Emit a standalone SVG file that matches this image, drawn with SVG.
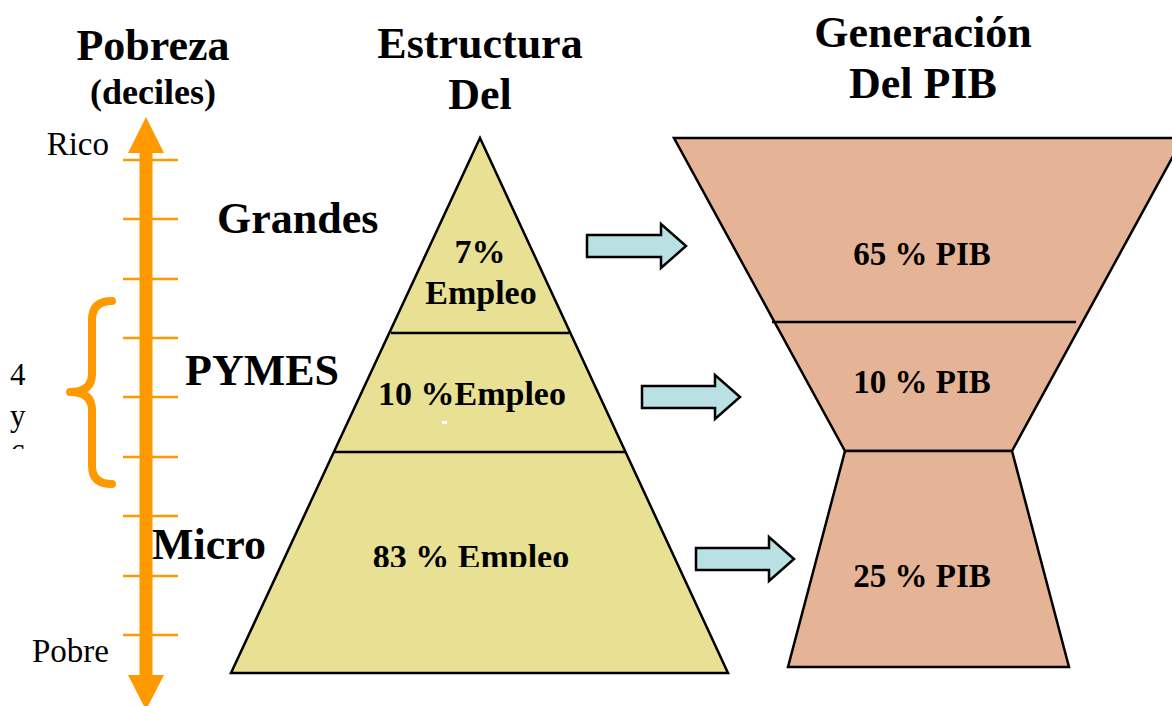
<svg xmlns="http://www.w3.org/2000/svg" width="1172" height="706" viewBox="0 0 1172 706">
<style>
.t{font-family:"Liberation Serif","Times New Roman",serif;fill:#000}
.b{font-weight:bold}
.h{font-size:44px;font-weight:bold}
.m{font-size:34px;font-weight:bold}
.tick{stroke:#FF9900;stroke-width:2.5}
.arr{fill:#B9E0E3;stroke:#000;stroke-width:2.5;stroke-linejoin:miter}
.pyr{fill:#E8E093;stroke:#000;stroke-width:2.5}
.hg{fill:#E5B396;stroke:#000;stroke-width:2.5}
.div{stroke:#000;stroke-width:2.5}
</style>
<defs>
<clipPath id="c46"><rect x="0" y="340" width="60" height="109"/></clipPath>
<clipPath id="c83"><rect x="330" y="520" width="300" height="47"/></clipPath>
</defs>
<rect width="1172" height="706" fill="#fff"/>

<g id="titles">
<text class="t h" x="153" y="60" text-anchor="middle">Pobreza</text>
<text class="t b" x="153" y="104" font-size="36" text-anchor="middle">(deciles)</text>
<text class="t h" x="480" y="58" text-anchor="middle">Estructura</text>
<text class="t h" x="480" y="109" text-anchor="middle">Del</text>
<text class="t h" x="923" y="47" text-anchor="middle">Generación</text>
<text class="t h" x="923" y="98" text-anchor="middle">Del PIB</text>
</g>

<g id="axis">
<line x1="146" y1="150" x2="146" y2="677" stroke="#FF9900" stroke-width="13"/>
<polygon points="146,117 128,153 164,153" fill="#FF9900"/>
<polygon points="128,675 164,675 146,710" fill="#FF9900"/>
<line class="tick" x1="123" y1="160" x2="178" y2="160"/>
<line class="tick" x1="123" y1="219" x2="178" y2="219"/>
<line class="tick" x1="123" y1="279" x2="178" y2="279"/>
<line class="tick" x1="123" y1="338" x2="178" y2="338"/>
<line class="tick" x1="123" y1="397" x2="178" y2="397"/>
<line class="tick" x1="123" y1="457" x2="178" y2="457"/>
<line class="tick" x1="123" y1="516" x2="178" y2="516"/>
<line class="tick" x1="123" y1="576" x2="178" y2="576"/>
<line class="tick" x1="123" y1="635" x2="178" y2="635"/>
<text class="t" x="109" y="155" font-size="33" text-anchor="end">Rico</text>
<text class="t" x="109" y="662" font-size="33" text-anchor="end">Pobre</text>
</g>

<g id="brace">
<path d="M112,301 Q92,301 92,320 L92,374 Q92,392 70,392 Q92,392 92,410 L92,466 Q92,484 112,484" fill="none" stroke="#FF9900" stroke-width="8" stroke-linecap="round" stroke-linejoin="round"/>
<g clip-path="url(#c46)">
<text class="t" x="10" y="385" font-size="31">4</text>
<text class="t" x="10" y="426" font-size="31">y</text>
<text class="t" x="10" y="466" font-size="31">6</text>
</g>
</g>

<g id="labels">
<text class="t h" x="217" y="233">Grandes</text>
<text class="t h" x="185" y="385">PYMES</text>
<text class="t h" x="152" y="559">Micro</text>
</g>

<g id="pyramid">
<polygon class="pyr" points="480,138 728,673 231,673"/>
<line class="div" x1="391" y1="333" x2="569" y2="333"/>
<line class="div" x1="334" y1="452" x2="626" y2="452"/>
<text class="t m" x="480" y="263" text-anchor="middle">7%</text>
<text class="t m" x="481" y="304" text-anchor="middle">Empleo</text>
<text class="t m" x="472" y="405" text-anchor="middle">10 %Empleo</text>
<rect x="442" y="421" width="5" height="3" fill="#fff"/>
<g clip-path="url(#c83)">
<text class="t m" x="471" y="568" text-anchor="middle">83 % Empleo</text>
</g>
</g>

<g id="hourglass">
<polygon class="hg" points="674,138 1183,138 1012,451 845,451"/>
<polygon class="hg" points="845,451 1012,451 1069,667 788,667"/>
<line class="div" x1="772" y1="322" x2="1076" y2="322"/>
<text class="t" x="922" y="265" font-size="33" font-weight="bold" text-anchor="middle">65 % PIB</text>
<text class="t" x="922" y="393" font-size="33" font-weight="bold" text-anchor="middle">10 % PIB</text>
<text class="t" x="922" y="587" font-size="33" font-weight="bold" text-anchor="middle">25 % PIB</text>
</g>

<g id="connectors">
<polygon class="arr" points="587,235 661,235 661,224 686,246 661,268 661,257 587,257"/>
<polygon class="arr" points="642,386 715,386 715,375 740,397 715,419 715,408 642,408"/>
<polygon class="arr" points="696,548 769,548 769,537 794,559 769,581 769,570 696,570"/>
</g>
</svg>
